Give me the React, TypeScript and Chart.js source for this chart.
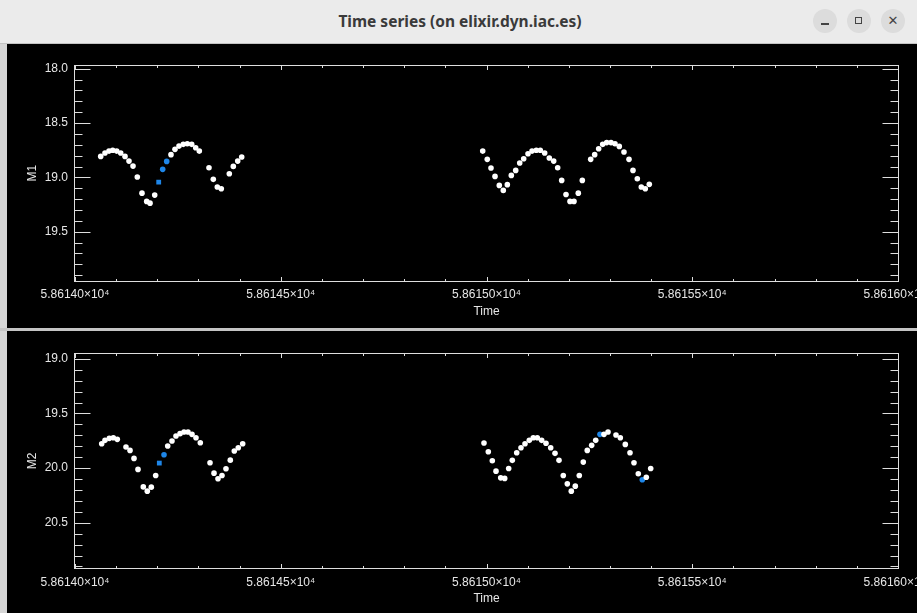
import React, { useEffect, useRef } from 'react';
import { Chart, registerables } from 'chart.js';

Chart.register(...registerables);

// ---------- axes ----------
const xMin = 58614.0;
const xMax = 58616.0;
const xTickValues = [58614.0, 58614.5, 58615.0, 58615.5, 58616.0];
const xTickLabels = ['5.86140×10⁴', '5.86145×10⁴', '5.86150×10⁴', '5.86155×10⁴', '5.86160×10⁴'];
const xTitle = 'Time';

const m1Range = [17.966, 19.958];
const m1TickValues = [18.0, 18.5, 19.0, 19.5];
const m1TickLabels = ['18.0', '18.5', '19.0', '19.5'];
const m1Title = 'M1';

const m2Range = [18.947, 20.923];
const m2TickValues = [19.0, 19.5, 20.0, 20.5];
const m2TickLabels = ['19.0', '19.5', '20.0', '20.5'];
const m2Title = 'M2';

// ---------- data ----------
const m1Time = [
  58614.0625, 58614.0729, 58614.0826, 58614.0916, 58614.1013, 58614.1111, 58614.1215, 58614.1312,
  58614.1410, 58614.1514, 58614.1628, 58614.1742, 58614.1823, 58614.1937, 58614.2034, 58614.2131,
  58614.2228, 58614.2333, 58614.2430, 58614.2527, 58614.2632, 58614.2729, 58614.2836, 58614.2933,
  58614.3021, 58614.3256, 58614.3361, 58614.3458, 58614.3555, 58614.3750, 58614.3847, 58614.3954,
  58614.4051,
  58614.9908, 58615.0019, 58615.0109, 58615.0207, 58615.0311, 58615.0408, 58615.0506, 58615.0603,
  58615.0710, 58615.0807, 58615.0904, 58615.1009, 58615.1106, 58615.1210, 58615.1307, 58615.1414,
  58615.1526, 58615.1633, 58615.1730, 58615.1827, 58615.1932, 58615.2029, 58615.2126, 58615.2231,
  58615.2328, 58615.2532, 58615.2629, 58615.2726, 58615.2824, 58615.2921, 58615.3026, 58615.3123,
  58615.3227, 58615.3341, 58615.3463, 58615.3560, 58615.3665, 58615.3762, 58615.3859, 58615.3956,
];
const m1Mag = [
  18.807, 18.776, 18.758, 18.751, 18.758, 18.776, 18.807, 18.850,
  18.896, 18.997, 19.145, 19.221, 19.237, 19.163, 19.043, 18.926,
  18.853, 18.791, 18.742, 18.712, 18.696, 18.690, 18.696, 18.727,
  18.758, 18.911, 19.018, 19.089, 19.104, 18.966, 18.899, 18.850,
  18.813,
  18.758, 18.834, 18.914, 18.991, 19.074, 19.120, 19.067, 18.982,
  18.936, 18.868, 18.828, 18.782, 18.758, 18.751, 18.751, 18.776,
  18.822, 18.850, 18.911, 19.028, 19.157, 19.221, 19.221, 19.145,
  19.028, 18.834, 18.791, 18.736, 18.696, 18.680, 18.680, 18.690,
  18.715, 18.767, 18.834, 18.936, 19.012, 19.089, 19.104, 19.064,
];
const m1Selected = [14, 15, 16];
const m1SelectedSquare = [14];

const m2Time = [
  58614.0649, 58614.0729, 58614.0834, 58614.0931, 58614.1028, 58614.1239, 58614.1337, 58614.1434,
  58614.1531, 58614.1660, 58614.1757, 58614.1854, 58614.1961, 58614.2049, 58614.2163, 58614.2253,
  58614.2357, 58614.2454, 58614.2552, 58614.2649, 58614.2746, 58614.2843, 58614.2940, 58614.3045,
  58614.3281, 58614.3378, 58614.3475, 58614.3572, 58614.3669, 58614.3774, 58614.3871, 58614.3968,
  58614.4075,
  58614.9939, 58615.0044, 58615.0141, 58615.0231, 58615.0345, 58615.0442, 58615.0539, 58615.0627,
  58615.0734, 58615.0838, 58615.0936, 58615.1040, 58615.1137, 58615.1234, 58615.1341, 58615.1446,
  58615.1560, 58615.1665, 58615.1762, 58615.1866, 58615.1964, 58615.2061, 58615.2158, 58615.2255,
  58615.2352, 58615.2449, 58615.2556, 58615.2654, 58615.2758, 58615.2855, 58615.2953, 58615.3147,
  58615.3252, 58615.3373, 58615.3487, 58615.3584, 58615.3689, 58615.3786, 58615.3883, 58615.3990,
];
const m2Mag = [
  19.777, 19.746, 19.728, 19.722, 19.737, 19.807, 19.838, 19.911,
  20.012, 20.172, 20.211, 20.174, 20.067, 19.954, 19.878, 19.798,
  19.752, 19.706, 19.685, 19.670, 19.670, 19.691, 19.722, 19.768,
  19.951, 20.046, 20.098, 20.067, 20.006, 19.927, 19.844, 19.814,
  19.777,
  19.771, 19.850, 19.933, 20.028, 20.089, 20.094, 20.003, 19.929,
  19.860, 19.814, 19.777, 19.746, 19.722, 19.722, 19.746, 19.773,
  19.814, 19.865, 19.929, 20.067, 20.144, 20.211, 20.165, 20.067,
  19.945, 19.838, 19.792, 19.746, 19.691, 19.691, 19.670, 19.697,
  19.722, 19.783, 19.860, 19.951, 20.052, 20.107, 20.083, 20.003,
];
const m2Selected = [13, 14, 61, 70];
const m2SelectedSquare = [13];

// ---------- styling ----------
const WHITE = '#ffffff';
const BLUE = '#1e86e8';
const TEXT = '#e6e6e6';
const LINE = '#dedede';
const FONT = { family: '"Liberation Sans", Arial, sans-serif', size: 12 };

const CANVAS_W = 953;

function makeIdlAxes(yMajor: number[]) {
  return {
    id: 'idlAxes',
    beforeDatasetsDraw(chart: any) {
      const { ctx, chartArea: a, scales } = chart;
      const x = scales.x;
      const y = scales.y;
      const L = Math.round(a.left) - 0.5;
      const R = Math.round(a.right) + 0.5;
      const T = Math.round(a.top) + 0.5;
      const B = Math.round(a.bottom) - 0.5;
      ctx.save();
      ctx.strokeStyle = LINE;
      ctx.lineWidth = 1;
      const seg = (x1: number, y1: number, x2: number, y2: number) => {
        ctx.beginPath();
        ctx.moveTo(x1, y1);
        ctx.lineTo(x2, y2);
        ctx.stroke();
      };
      ctx.strokeRect(L, T, R - L, B - T);
      // y ticks: majors from the scale's ticks, minors every 0.1
      const lo = Math.min(y.min, y.max);
      const hi = Math.max(y.min, y.max);
      for (let k = Math.ceil(lo * 10 - 1e-6); k <= Math.floor(hi * 10 + 1e-6); k++) {
        const v = k / 10;
        const major = yMajor.some((m) => Math.abs(m - v) < 1e-6);
        const len = major ? 16 : 8;
        const py = Math.round(y.getPixelForValue(v)) + 0.5;
        seg(L, py, L + len, py);
        seg(R, py, R - len, py);
      }
      // x ticks
      for (let k = Math.ceil(x.min * 10 - 1e-6); k <= Math.floor(x.max * 10 + 1e-6); k++) {
        const v = k / 10;
        const major = xTickValues.some((m) => Math.abs(m - v) < 1e-6);
        const len = major ? 4.5 : 2.5;
        const px = Math.round(x.getPixelForValue(v)) + 0.5;
        seg(px, B, px, B - len);
        seg(px, T, px, T + len);
      }
      ctx.restore();
    },
  };
}

function buildConfig(
  time: number[], mag: number[], selected: number[], squares: number[],
  range: number[], yTicks: number[], yLabels: string[], yTitle: string,
  padTop: number, padBottom: number, xHeight: number,
): any {
  return {
    type: 'scatter',
    data: {
      datasets: [{
        data: time.map((t, i) => ({ x: t, y: mag[i] })),
        backgroundColor: (c: any) => (selected.includes(c.dataIndex) ? BLUE : WHITE),
        pointStyle: (c: any) => (squares.includes(c.dataIndex) ? 'rect' : 'circle'),
        pointRadius: (c: any) => (squares.includes(c.dataIndex) ? 3.4 : 2.8),
        borderWidth: 0,
      }],
    },
    options: {
      responsive: false,
      animation: false,
      events: [],
      layout: { padding: { left: 0, top: padTop, right: 62, bottom: padBottom } },
      plugins: {
        legend: { display: false },
        tooltip: { enabled: false },
      },
      scales: {
        x: {
          type: 'linear',
          min: xMin,
          max: xMax,
          grid: { display: false, drawTicks: false, tickLength: 0 },
          border: { display: false },
          afterBuildTicks: (s: any) => { s.ticks = xTickValues.map((v) => ({ value: v })); },
          afterFit: (s: any) => { s.height = xHeight; },
          ticks: {
            callback: (v: number) => xTickLabels[xTickValues.indexOf(v)],
            padding: 6,
            maxRotation: 0,
            autoSkip: false,
            color: TEXT,
            font: FONT,
          },
          title: { display: true, text: xTitle, color: TEXT, font: FONT, padding: { top: 0, bottom: 0 } },
        },
        y: {
          type: 'linear',
          reverse: true,
          min: range[0],
          max: range[1],
          grid: { display: false, drawTicks: false, tickLength: 0 },
          border: { display: false },
          afterBuildTicks: (s: any) => { s.ticks = yTicks.map((v) => ({ value: v })); },
          afterFit: (s: any) => { s.width = 68; },
          ticks: {
            callback: (v: number) => yLabels[yTicks.indexOf(v)],
            padding: 7,
            color: TEXT,
            font: FONT,
          },
          title: { display: true, text: yTitle, color: TEXT, font: FONT, padding: { top: 18, bottom: 0 } },
        },
      },
    },
    plugins: [makeIdlAxes(yTicks)],
  };
}

function Panel(props: { config: () => any; height: number; top: number }) {
  const ref = useRef<HTMLCanvasElement | null>(null);
  useEffect(() => {
    if (!ref.current) return;
    const chart = new Chart(ref.current, props.config());
    return () => chart.destroy();
  }, []);
  return (
    <canvas
      ref={ref}
      width={CANVAS_W}
      height={props.height}
      style={{ position: 'absolute', left: 7, top: props.top, width: CANVAS_W, height: props.height }}
    />
  );
}

const circleBtn: React.CSSProperties = {
  position: 'absolute',
  top: 9,
  width: 24,
  height: 24,
  borderRadius: 12,
  background: '#dcdcdc',
};

export default function App() {
  useEffect(() => {
    document.body.style.margin = '0';
  }, []);
  return (
    <div style={{ position: 'fixed', left: 0, top: 0, width: 917, height: 613, overflow: 'hidden', background: '#000' }}>
      <div style={{ position: 'absolute', left: 0, top: 0, width: 917, height: 43, background: '#ebebeb', borderBottom: '1px solid #c4c4c4' }}>
        <div style={{
          position: 'absolute', left: 0, top: 0, width: 920, height: 42, lineHeight: '42px', textAlign: 'center',
          fontFamily: '"Noto Sans", "Open Sans", sans-serif', fontWeight: 700, fontSize: 15.5, color: '#3a3a3a',
        }}>
          Time series (on elixir.dyn.iac.es)
        </div>
        <div style={{ ...circleBtn, left: 813 }}>
          <div style={{ position: 'absolute', left: 8, top: 14, width: 8, height: 1.5, background: '#444' }} />
        </div>
        <div style={{ ...circleBtn, left: 847 }}>
          <div style={{ position: 'absolute', left: 8, top: 8, width: 7, height: 7, border: '1px solid #444', boxSizing: 'border-box' }} />
        </div>
        <div style={{ ...circleBtn, left: 881 }}>
          <div style={{
            position: 'absolute', left: 0, top: 0, width: 24, height: 24, lineHeight: '24px', textAlign: 'center',
            fontFamily: '"DejaVu Sans", sans-serif', fontSize: 13, color: '#444',
          }}>✕</div>
        </div>
      </div>
      <div style={{ position: 'absolute', left: 0, top: 44, width: 7, height: 569, background: '#d6d6d6' }} />
      <Panel
        top={44}
        height={284}
        config={() => buildConfig(m1Time, m1Mag, m1Selected, m1SelectedSquare, m1Range, m1TickValues, m1TickLabels, m1Title, 21, 9.5, 37)}
      />
      <div style={{ position: 'absolute', left: 0, top: 328, width: 917, height: 3, background: '#c4c4c4' }} />
      <Panel
        top={331}
        height={282}
        config={() => buildConfig(m2Time, m2Mag, m2Selected, m2SelectedSquare, m2Range, m2TickValues, m2TickLabels, m2Title, 22, 7, 37)}
      />
    </div>
  );
}
